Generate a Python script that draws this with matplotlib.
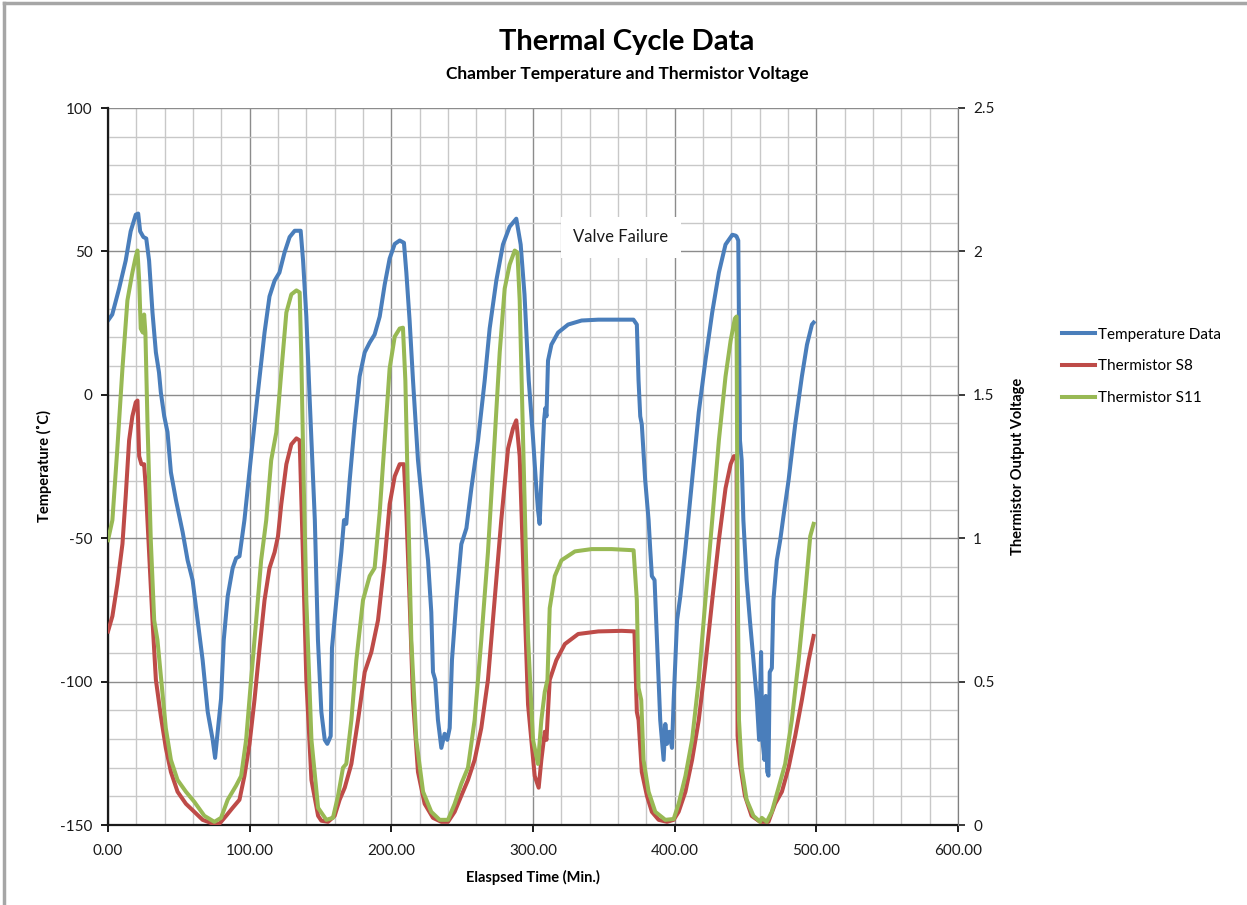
import matplotlib
matplotlib.use("Agg")
from matplotlib import pyplot as plt
from matplotlib.ticker import MultipleLocator, FormatStrFormatter
from matplotlib.lines import Line2D

plt.rcParams['font.family'] = ['Lato', 'DejaVu Sans']
plt.rcParams['axes.unicode_minus'] = False

# chamber temperature (deg C) vs elapsed time (min)
time_temp = [0, 3, 7.8, 12.5, 16, 19.6, 21.3, 22.7, 25, 27, 29, 31.4, 33.8, 36, 37.3, 39.7, 42, 44.4,
             48, 52.7, 56.2, 59.7, 63.3, 66.8, 70.4, 73.9, 75.6, 77.4, 79.8, 81.7, 84.5, 88, 90.4, 92.8,
             96.3, 101, 105.8, 110.5, 114, 117.6, 121, 124.6, 128.2, 131.8, 136, 137.7, 140, 142.4, 146,
             148.2, 150.6, 153, 154.8, 157.2, 158.1, 161.2, 164.7, 166.6, 168.2, 170.6, 174.1, 177.6,
             181.2, 184.7, 188.2, 191.8, 195.3, 198.8, 202.4, 205.9, 208.9, 210.6, 212.9, 215.3, 218.8,
             222.4, 225.9, 228.2, 229.4, 231, 232.9, 235.3, 237.6, 239.5, 241.2, 242.8, 245.9, 249.4,
             253, 256.5, 261.2, 265.9, 269.4, 274.1, 278.8, 283.5, 288.2, 291.3, 294, 297, 300, 302,
             303.5, 304.7, 305.9, 307.8, 308.7, 309.5, 310.6, 313, 317.7, 324.8, 334.3, 346.1, 357.9,
             370.9, 373.3, 374.5, 375.7, 376.8, 379.2, 381.6, 382.7, 383.9, 385.8, 387.5, 389.8, 392.2,
             393.4, 394.6, 396.2, 398.1, 399.3, 401.7, 404, 407.6, 412.3, 417, 421.7, 426.5, 431.2,
             435.9, 440.7, 443, 443.7, 444.9, 446.1, 447.3, 448.5, 450.8, 453.1, 455.6, 458, 459.6, 461,
             461.9, 463.4, 464.3, 465.3, 466.2, 467.1, 468.6, 469.7, 472.1, 474.5, 476.8, 480.4, 485.1,
             489.8, 493.4, 496.9, 498.1]
temp = [25.9, 28, 37, 46.8, 57, 62.8, 63.2, 57, 55, 54.5, 46.8, 28.7, 14.8, 7.8, 0.8, -7.5, -13, -27,
        -36.8, -47.9, -57.7, -64.6, -78.6, -92.5, -110.6, -120.3, -126.6, -117.6, -106, -85.5, -70.2,
        -60.4, -57, -56.3, -43.7, -21.4, 0.8, 21.7, 34.3, 39.8, 42.6, 49.6, 55, 57.2, 57.2, 46.8, 27.3,
        -2, -43.7, -85.5, -110.6, -120.3, -121.7, -119, -88.3, -71.6, -54.9, -43.7, -45, -29.8, -10.3,
        6.4, 14.8, 18.2, 21, 27.3, 38.4, 47.5, 52.6, 53.8, 53, 42.6, 25.9, 5, -22.8, -40.9, -57.7,
        -75.8, -96.7, -99.4, -113.4, -123.1, -118.2, -120.3, -116.2, -92.5, -71.6, -52.1, -46.5,
        -32.6, -15.9, 5, 23.1, 39.8, 52.4, 58.6, 61.4, 52.4, 35, 5, -15, -30, -40, -45, -29.8, -8.9,
        -4.7, -7.5, 11.9, 17.5, 21.7, 24.5, 25.9, 26.2, 26.2, 26.2, 24.5, 5, -7.5, -10.3, -29.8,
        -43.7, -53.5, -63.2, -64.6, -85.5, -113.4, -127.3, -114.8, -121.7, -117.5, -123.1, -106.4,
        -78.6, -70.2, -53.5, -29.8, -6.1, 11.9, 28.7, 42.6, 52.4, 55.8, 55.5, 55.2, 53.8, -15.9,
        -22.8, -43.7, -64.6, -78.6, -92.5, -106.4, -120.3, -89.7, -120.3, -127.3, -105, -131.4,
        -132.8, -96.7, -95.3, -71.6, -57.7, -50.7, -42.3, -29.8, -10.3, 6.4, 17.5, 24.5, 25.2]

# thermistor S8 output voltage (V)
time_s8 = [0, 3.1, 6.6, 10.2, 12.5, 14.9, 17.2, 19.6, 20.8, 22, 23.6, 25.5, 26.7, 29, 31.4, 33.8, 37.3,
           40.8, 44.4, 49.1, 55, 60.9, 66.8, 72.7, 78.6, 83.4, 88, 92.8, 96.3, 99.9, 103.4, 107, 110.5,
           114, 117.6, 120, 122.3, 125.9, 129.4, 133, 135.3, 137.7, 140, 143.6, 148.3, 150.6, 155.3,
           160, 163.5, 167.1, 171.8, 176.5, 181.2, 185.9, 190.6, 195.3, 198.8, 202.4, 205.9, 208.9,
           210.6, 212.9, 215.3, 218.8, 223.5, 229.4, 235.3, 240, 244.7, 249.4, 254.1, 258.8, 263.5,
           268.2, 272.9, 277.6, 282.4, 285.9, 288.2, 290.6, 293, 296.5, 301.2, 304, 305.9, 308.3,
           309.5, 311.8, 316.5, 322.5, 331.9, 346.1, 362.6, 371.6, 373.3, 374.5, 376.8, 380.4, 383.9,
           388.7, 394.6, 399.3, 402.8, 407.6, 412.3, 417, 421.7, 426.5, 431.2, 435.9, 439.5, 441.8,
           443.7, 444.4, 446.1, 449.6, 454.3, 460.3, 466.2, 470.9, 475.7, 480.4, 485.1, 489.8, 494.6,
           498.1]
s8_volts = [0.675, 0.728, 0.84, 0.98, 1.146, 1.341, 1.425, 1.474, 1.48, 1.286, 1.258, 1.258, 1.174,
            0.951, 0.714, 0.506, 0.38, 0.269, 0.185, 0.116, 0.074, 0.046, 0.018, 0.007, 0.004, 0.032,
            0.06, 0.088, 0.171, 0.283, 0.436, 0.617, 0.784, 0.896, 0.951, 1.007, 1.118, 1.258, 1.327,
            1.348, 1.341, 0.923, 0.506, 0.157, 0.032, 0.015, 0.011, 0.032, 0.088, 0.13, 0.213, 0.366,
            0.533, 0.603, 0.714, 0.923, 1.118, 1.216, 1.258, 1.258, 1.091, 0.784, 0.436, 0.185, 0.074,
            0.025, 0.011, 0.011, 0.046, 0.102, 0.157, 0.227, 0.338, 0.506, 0.784, 1.063, 1.313, 1.383,
            1.411, 1.286, 0.923, 0.42, 0.171, 0.13, 0.227, 0.325, 0.297, 0.506, 0.575, 0.631, 0.666,
            0.675, 0.677, 0.675, 0.394, 0.366, 0.185, 0.102, 0.046, 0.018, 0.011, 0.018, 0.046, 0.116,
            0.227, 0.366, 0.561, 0.784, 0.993, 1.174, 1.258, 1.286, 1.286, 0.311, 0.213, 0.102, 0.032,
            0.011, 0.011, 0.074, 0.116, 0.2, 0.311, 0.436, 0.575, 0.659]

# thermistor S11 output voltage (V)
time_s11 = [0, 3.1, 6.6, 10.2, 13.7, 17.2, 19.6, 20.8, 22, 23.1, 24.6, 25.5, 26.4, 27.9, 30.2, 32.6,
            34.9, 37.3, 40.8, 44.4, 49.1, 55, 60.9, 68, 75.1, 79.8, 84.5, 90.4, 94, 97.5, 101, 104.6,
            108.1, 111.7, 115.2, 118.8, 122.3, 125.9, 129.4, 133, 135.3, 136.5, 138.1, 140, 143.6,
            148.3, 154.1, 158.8, 162.4, 165.9, 168.2, 171.8, 175.3, 180, 184.7, 188.2, 191.8, 195.3,
            198.8, 202.4, 205.9, 208.2, 209.9, 211.8, 214.1, 217.6, 222.4, 228.2, 234.1, 240, 244.7,
            249.4, 254.1, 258.8, 263.5, 268.2, 272.9, 276.5, 280, 283.5, 287.1, 289, 290.6, 293, 296.5,
            300, 303.5, 305.9, 308.3, 310.2, 311.8, 315.4, 320.1, 329.6, 341.4, 355.6, 371, 373.3,
            374.5, 376.4, 378, 381.6, 386.3, 393.4, 399.3, 402.8, 407.6, 412.3, 417, 421.7, 426.5,
            431.2, 435.9, 439.5, 442.5, 443.7, 444.4, 445.4, 447.3, 450.8, 455.6, 460.3, 461.5, 465,
            468.6, 473.3, 478, 482.7, 487.5, 492.2, 495.7, 498.1]
s11_volts = [0.993, 1.063, 1.313, 1.592, 1.829, 1.926, 1.982, 2.003, 1.898, 1.731, 1.717, 1.78, 1.717,
             1.397, 0.993, 0.714, 0.645, 0.52, 0.338, 0.227, 0.157, 0.116, 0.081, 0.032, 0.011, 0.025,
             0.088, 0.137, 0.171, 0.297, 0.506, 0.714, 0.923, 1.063, 1.272, 1.369, 1.578, 1.787, 1.85,
             1.864, 1.857, 1.62, 1.202, 0.784, 0.297, 0.06, 0.018, 0.025, 0.102, 0.2, 0.213, 0.366,
             0.575, 0.784, 0.868, 0.896, 1.091, 1.341, 1.592, 1.703, 1.731, 1.734, 1.55, 1.132, 0.645,
             0.297, 0.116, 0.046, 0.018, 0.018, 0.074, 0.144, 0.2, 0.366, 0.645, 0.951, 1.341, 1.648,
             1.87, 1.954, 2.003, 1.996, 1.829, 1.341, 0.65, 0.297, 0.213, 0.366, 0.464, 0.506, 0.756,
             0.868, 0.923, 0.954, 0.962, 0.962, 0.958, 0.784, 0.478, 0.436, 0.227, 0.116, 0.046, 0.018,
             0.021, 0.074, 0.171, 0.297, 0.506, 0.784, 1.063, 1.341, 1.564, 1.689, 1.766, 1.773, 0.923,
             0.366, 0.2, 0.088, 0.032, 0.011, 0.025, 0.011, 0.046, 0.13, 0.213, 0.366, 0.575, 0.812,
             1.007, 1.05]

c_blue = '#4a7ebb'
c_red = '#be4b48'
c_green = '#98b954'

fig = plt.figure(figsize=(12.47, 9.05), dpi=100)
ax = fig.add_axes([108 / 1247, 1 - 825 / 905, 850 / 1247, 717 / 905])
ax2 = ax.twinx()

# outer chart frame (top and left edges visible)
fig.add_artist(Line2D([4 / 1247, 4 / 1247], [0, 1 - 3 / 905], transform=fig.transFigure,
                      color='#a6a6a6', lw=2.5))
fig.add_artist(Line2D([4 / 1247, 1], [1 - 3 / 905, 1 - 3 / 905], transform=fig.transFigure,
                      color='#a6a6a6', lw=2.5))

ax.plot(time_temp, temp, color=c_blue, lw=2.9, label='Temperature Data', solid_joinstyle='round')
ax2.plot(time_s8, s8_volts, color=c_red, lw=2.9, label='Thermistor S8', solid_joinstyle='round')
ax2.plot(time_s11, s11_volts, color=c_green, lw=2.9, label='Thermistor S11', solid_joinstyle='round')

ax.set_xlim(0, 600)
ax.set_ylim(-150, 100)
ax2.set_ylim(0, 2.5)

ax.xaxis.set_major_locator(MultipleLocator(100))
ax.xaxis.set_minor_locator(MultipleLocator(20))
ax.xaxis.set_major_formatter(FormatStrFormatter('%.2f'))
ax.yaxis.set_major_locator(MultipleLocator(50))
ax.yaxis.set_minor_locator(MultipleLocator(10))
ax2.yaxis.set_major_locator(MultipleLocator(0.5))
ax2.yaxis.set_major_formatter(FormatStrFormatter('%g'))

ax.grid(which='major', color='#8c8c8c', lw=1.0)
ax.grid(which='minor', color='#c8c8c8', lw=1.0)
ax.set_axisbelow(True)

for a in (ax, ax2):
    a.spines['top'].set_visible(False)
    a.spines['right'].set_color('#808080')
ax.spines['left'].set_color('#1a1a1a')
ax.spines['left'].set_linewidth(1.6)
ax.spines['bottom'].set_color('#1a1a1a')
ax.spines['bottom'].set_linewidth(1.6)
ax2.spines['left'].set_visible(False)
ax2.spines['bottom'].set_visible(False)

ax.tick_params(which='major', direction='out', length=5, width=1.4, labelsize=11, colors='#1a1a1a',
               pad=6)
ax.tick_params(which='minor', length=0)
ax.tick_params(axis='x', pad=9)
ax2.tick_params(direction='out', length=5, width=1.2, labelsize=11, colors='#1a1a1a', pad=6)

ax.set_xlabel('Elaspsed Time (Min.)', fontsize=10.5, fontweight='bold', labelpad=8)
ax.set_ylabel('Temperature (˚C)', fontsize=10.5, fontweight='bold')
ax.yaxis.set_label_coords(-56 / 850, 0.5)
ax2.set_ylabel('Thermistor Output Voltage', fontsize=10.5, fontweight='bold')
ax2.yaxis.set_label_coords(1 + 53 / 850, 0.5)

fig.text(627 / 1247, 1 - 42 / 905, 'Thermal Cycle Data', ha='center', va='center', fontsize=21,
         fontweight='bold')
fig.text(627 / 1247, 1 - 74 / 905, 'Chamber Temperature and Thermistor Voltage', ha='center',
         va='center', fontsize=12.5, fontweight='bold')

ax.text(362, 55, 'Valve Failure', ha='center', va='center', fontsize=12, color='#1a1a1a', zorder=5,
        bbox=dict(facecolor='white', edgecolor='none', pad=9))

handles = ax.get_lines() + ax2.get_lines()
fig.legend(handles, [h.get_label() for h in handles], loc='upper left',
           bbox_to_anchor=(1048 / 1247, 1 - 314 / 905), frameon=False, fontsize=11,
           handlelength=2.2, handletextpad=0.15, labelspacing=1.15)

fig.savefig('out.png', dpi=100)
